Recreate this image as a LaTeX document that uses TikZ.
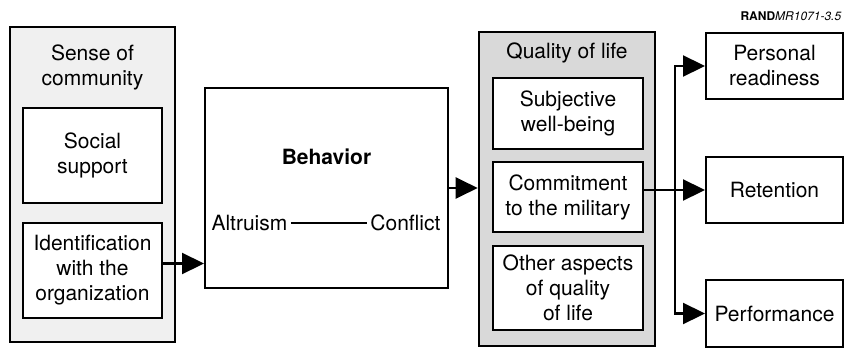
\documentclass[tikz,border=0pt]{standalone}
\usepackage{fontspec}
\setmainfont{TeX Gyre Heros}
\usetikzlibrary{arrows.meta}

\begin{document}
\begin{tikzpicture}[
  x=1pt, y=-1pt,
  every node/.style={
    align=center,
    font=\fontsize{21}{25}\selectfont,
  },
  group/.style={draw, line width=2.6pt, fill=gray!12, inner sep=0pt},
  box/.style={draw, line width=2pt, fill=white, inner sep=0pt},
  conn/.style={draw, line width=2.2pt, -{Triangle[length=22pt,width=21pt]}},
  ]
  \useasboundingbox (0,0) rectangle (845,348);
  \node[group, minimum width=165, minimum height=315] (soc) at (92.5,184.5) {};
  \node (soct) at (92.5,67) {Sense of\\community};
  \node[box, minimum width=139, minimum height=95] (sup) at (92.5,155.5) {Social\\support};
  \node[box, minimum width=139, minimum height=95] (ide) at (92.5,270.5) {Identification\\with the\\organization};

  \node[box, minimum width=243, minimum height=200] (beh) at (326.5,188) {};
  \node[font=\fontsize{21}{25}\selectfont\bfseries] (beht) at (326.5,157) {Behavior};
  \node[anchor=west] (alt) at (208,223) {Altruism};
  \node[anchor=east] (con) at (444,223) {Conflict};
  \draw[line width=1.2pt] (alt) -- (con);

  \node[group, fill=gray!30, minimum width=176, minimum height=314] (qol) at (567,189) {};
  \node (qolt) at (567,53) {Quality of life};
  \node[box, minimum width=150, minimum height=71] (swb) at (568,113.5) {Subjective\\well-being};
  \node[box, minimum width=150, minimum height=70] (cmt) at (568,197) {Commitment\\to the military};
  \node[box, minimum width=150, minimum height=84] (oth) at (568,288) {Other aspects\\of quality\\of life};

  \node[box, minimum width=137, minimum height=66] (rdy) at (774.5,66) {Personal\\readiness};
  \node[box, minimum width=137, minimum height=66] (ret) at (774.5,190) {Retention};
  \node[box, minimum width=137, minimum height=67] (prf) at (774.5,313.5) {Performance};

  \node[anchor=base east, font=\fontsize{12}{14}\selectfont] (fig) at (845,20) {\textbf{RAND}\textit{MR1071-3.5}};

  \coordinate (jn) at (675,190);
  \path[conn] ([yshift=7pt]ide.east) -- ([yshift=7pt]ide.east -| beh.west);
  \path[conn] (beh.east) -- (beh.east -| qol.west);
  \path[conn] (ret.west -| cmt.east) -- (ret.west);
  \path[conn] (jn) |- (rdy.west);
  \path[conn] (jn) |- (prf.west);
\end{tikzpicture}
\end{document}
